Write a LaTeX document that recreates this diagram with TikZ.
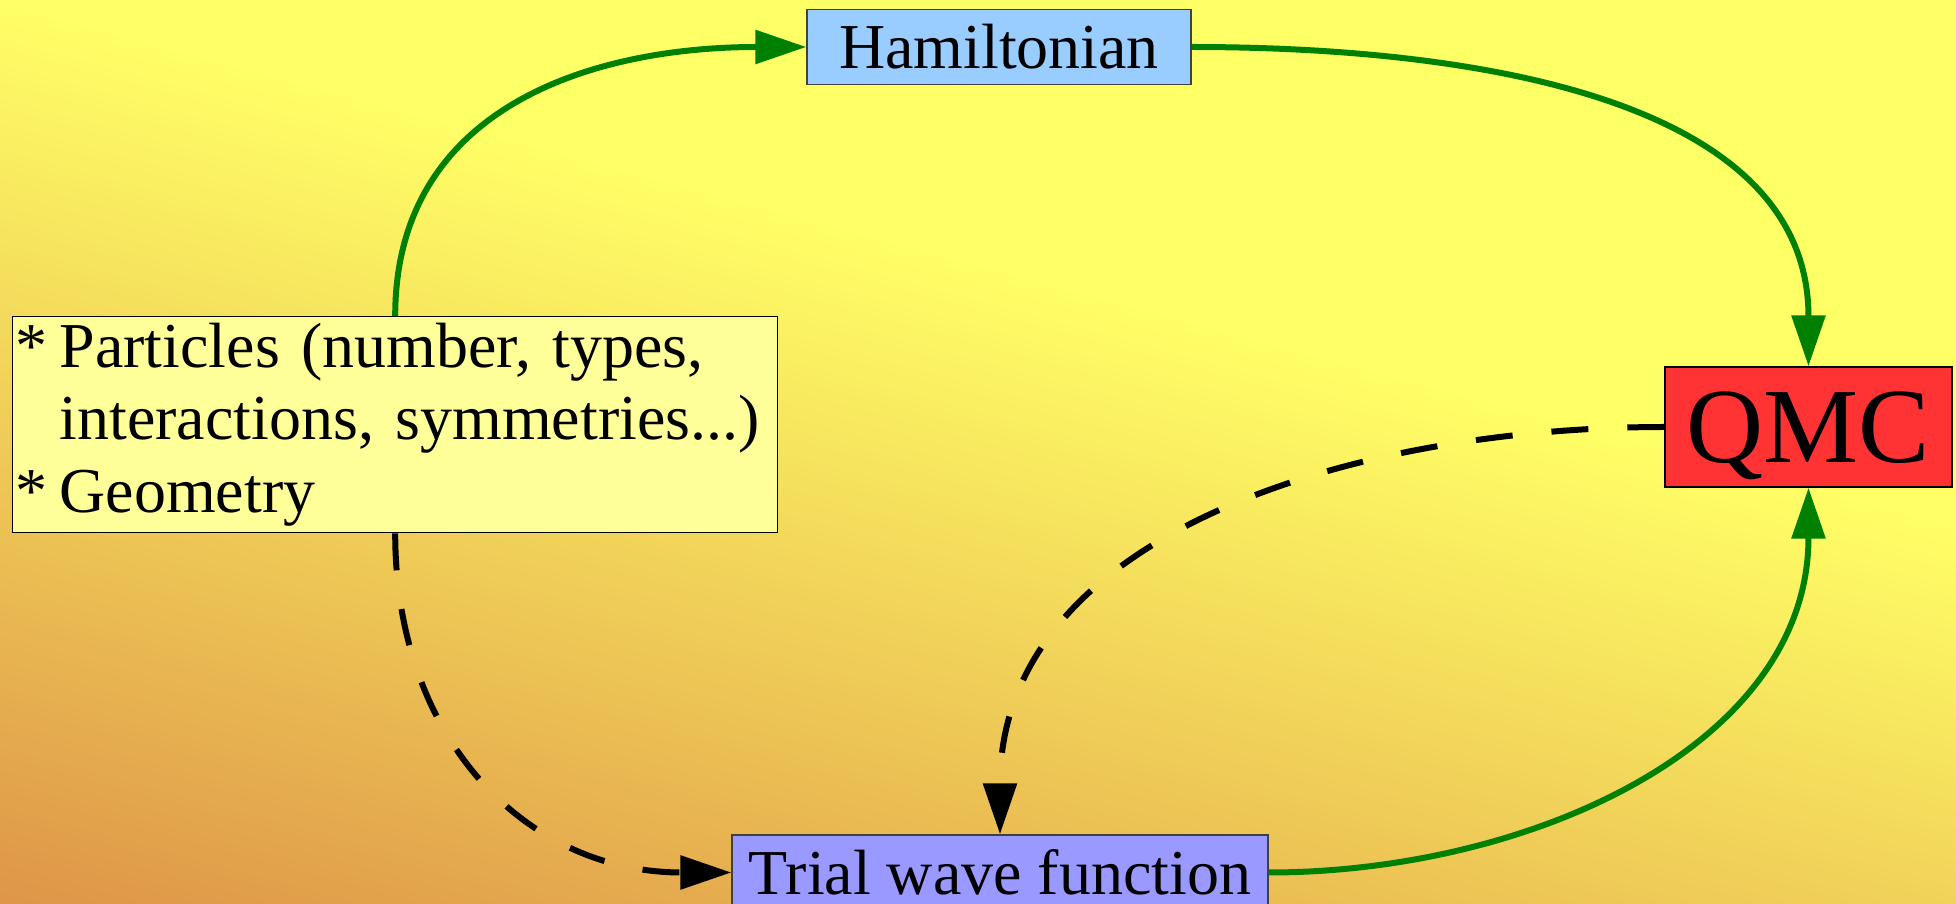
\documentclass[tikz,border=0pt]{standalone}
\usepackage{fontspec}
\setmainfont{Liberation Serif}
\usepackage{tikz}
\usetikzlibrary{arrows.meta}
\definecolor{hamblue}{HTML}{99CCFF}
\definecolor{partyellow}{HTML}{FFFF99}
\definecolor{qmcred}{HTML}{FF3333}
\definecolor{trialblue}{HTML}{9999FF}
\definecolor{flowgreen}{HTML}{008000}
\definecolor{bgyellow}{HTML}{FFFF66}
\definecolor{bgorange}{HTML}{DE9548}

\begin{document}
\begin{tikzpicture}[
  box/.style={draw=black!75, line width=0.4pt, inner sep=0.03cm,
              font=\fontsize{18.2pt}{20.5pt}\selectfont},
  hambox/.style={box, fill=hamblue, minimum width=3.84cm, minimum height=0.75cm},
  trialbox/.style={box, fill=trialblue, minimum width=5.36cm, minimum height=0.75cm},
  qmcbox/.style={box, draw=black, fill=qmcred, minimum width=2.87cm,
                 minimum height=1.20cm, text depth=0pt,
                 font=\fontsize{30.4pt}{32pt}\selectfont},
  inputbox/.style={box, draw=black, fill=partyellow, anchor=north west,
                   minimum width=7.65cm, minimum height=2.16cm,
                   text width=7.59cm, align=left},
  flow/.style={-{Triangle[length=5.1mm,width=3.3mm]}, line width=0.6mm, draw=flowgreen},
  link/.style={-{Triangle[length=5.1mm,width=3.3mm]}, line width=0.6mm, draw=black,
               dash pattern=on 3.7mm off 3.9mm},
]
  % Background gradient.
  \useasboundingbox (0,0) rectangle (19.56,-9.04);
  \begin{scope}
    \clip (0,0) rectangle (19.56,-9.04);
    \fill[bgyellow] (0,0) rectangle (19.56,-9.04);
    \begin{scope}[transform canvas={rotate=-15}]
      \shade[top color=bgyellow, bottom color=bgorange] (-0.5,-8.74) rectangle (21.5,0);
    \end{scope}
  \end{scope}

  % Boxes.
  \node[inputbox] (particles) at (0.12,-3.16)
    {\makebox[0.44cm][l]{*}Particles (number, types,\\\hspace*{0.44cm}interactions, symmetries...)\\\makebox[0.44cm][l]{*}Geometry};
  \node[hambox] (ham) at (9.99,-0.47) {Hamiltonian};
  \node[trialbox] (trial) at (10.00,-8.725) {Trial wave function};
  \node[qmcbox] (qmc) at (18.085,-4.27) {QMC};

  % Connectors.
  \draw[flow] (particles.north) to[out=90, in=180, looseness=1.1] (ham.west);
  \draw[flow] (ham.east) to[out=0, in=90] (qmc.north);
  \draw[flow] (trial.east) to[out=0, in=-90] (qmc.south);
  \draw[link] (particles.south) to[out=-90, in=180, looseness=1.1] (trial.west);
  \draw[link] (qmc.west) to[out=180, in=90] (trial.north);
\end{tikzpicture}
\end{document}
